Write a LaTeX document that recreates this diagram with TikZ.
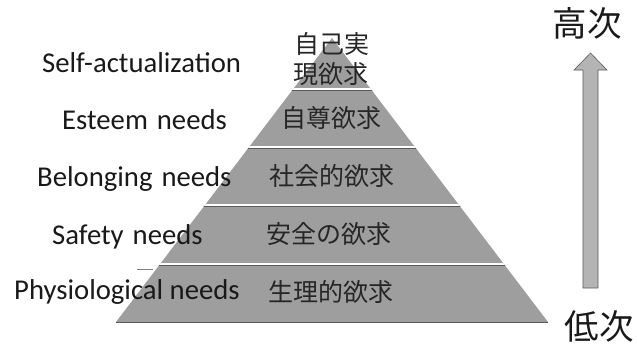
\documentclass[tikz,border=0pt]{standalone}
\usepackage{fontspec}
\setmainfont{Carlito}
\newfontfamily\jp{Noto Sans CJK JP}
\definecolor{pyrgray}{RGB}{158,158,158}
\definecolor{arrgray}{RGB}{180,180,180}
\definecolor{edgegray}{RGB}{90,90,90}
\begin{document}
\begin{tikzpicture}[x=1pt,y=-1pt,
  en/.style={font=\fontsize{28.7}{32}\selectfont, anchor=base west, inner sep=0pt, text=black!90},
  jl/.style={font=\jp\fontsize{25}{28}\selectfont, text=black!85, inner sep=0pt},
  jh/.style={font=\jp\fontsize{34.5}{38}\selectfont, text=black!90, inner sep=0pt},
  sep/.style={white, line width=2pt},
  sepdark/.style={edgegray, line width=0.6pt},
]
\useasboundingbox (0,0) rectangle (637,346);
% pyramid
\coordinate (apex) at (332,38);
\coordinate (bl) at (116,322);
\coordinate (br) at (548,322);
\fill[pyrgray] (apex) -- (br) -- (bl) -- cycle;
\begin{scope}
  \clip (apex) -- (br) -- (bl) -- cycle;
  \foreach \yy in {89,147,205,264} {
    \draw[sepdark] (100,\yy+1.6) -- (570,\yy+1.6);
    \draw[sep] (100,\yy) -- (570,\yy);
  }
\end{scope}
\draw[sepdark] (bl) -- (br);
% small stray line
\draw[gray, line width=0.6pt] (137,269) -- (153,269);
% arrow
\draw[fill=arrgray, draw=edgegray, line width=0.6pt]
  (583,288) -- (583,70) -- (574,70) -- (590.5,53) -- (607,70) -- (598,70) -- (598,288) -- cycle;
% Japanese labels in pyramid
\node[jl] (j1a) at (332,44) {自己実};
\node[jl] (j1b) at (331,74) {現欲求};
\node[jl] (j2) at (331,118) {自尊欲求};
\node[jl] (j3) at (332,176) {社会的欲求};
\node[jl] (j4) at (329,234) {安全の欲求};
\node[jl] (j5) at (331,292) {生理的欲求};
% English labels
\node[en] (e1) at (42,72) {Self-actualization};
\node[en] (e2) at (62,129) {Esteem\hspace{9pt}needs};
\node[en] (e3) at (37,186) {Belonging\hspace{9pt}needs};
\node[en] (e4) at (52,244) {Safety\hspace{9pt}needs};
\node[en] (e5) at (14,299) {Physiological needs};
% high/low
\node[jh] (hi) at (587,23) {高次};
\node[jh] (lo) at (599,326) {低次};
\end{tikzpicture}
\end{document}
